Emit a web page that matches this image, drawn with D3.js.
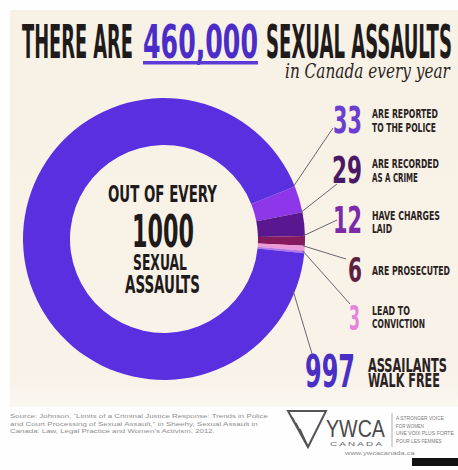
<!DOCTYPE html>
<html><head><meta charset="utf-8">
<script src="https://cdn.jsdelivr.net/npm/d3@7"></script>
<style>html,body{margin:0;padding:0;background:#fff;}svg{display:block;}</style>
</head><body>
<script>
// ---- data ----
const categories = ["Reported to the police","Recorded as a crime","Have charges laid","Are prosecuted","Lead to conviction","Assailants walk free"];
const counts = [33, 29, 12, 6, 3, 997];
const numberLabels = ["33","29","12","6","3","997"];
const labelLines = [["ARE REPORTED","TO THE POLICE"],["ARE RECORDED","AS A CRIME"],["HAVE CHARGES","LAID"],["ARE PROSECUTED"],["LEAD TO","CONVICTION"],["ASSAILANTS","WALK FREE"]];
const titleParts = ["THERE ARE","460,000","SEXUAL ASSAULTS"];
const subtitle = "in Canada every year";
const centerLines = ["OUT OF EVERY","1000","SEXUAL","ASSAULTS"];
const sourceLines = [
  "Source: Johnson, \u201CLimits of a Criminal Justice Response: Trends in Police",
  "and Court Processing of Sexual Assault,\u201D in Sheehy, Sexual Assault in",
  "Canada: Law, Legal Practice and Women\u2019s Activism, 2012."
];
const taglines = ["A STRONGER VOICE","FOR WOMEN","UNE VOIX PLUS FORTE","POUR LES FEMMES"];

// ---- styles / layout ----
const W = 458, H = 470;
const cx = 164, cy = 239, R = 141, r = 94;
const sliceColors = ["#8d36ea","#5a1890","#85195e","#ec9ad8","#b57ae8","#5a2fe0"];
const numberColors = ["#6a3fd0","#4a1a66","#7b2aa8","#5e2042","#e584dc","#4a2fc4"];
const FONT = "'Liberation Sans Narrow','DejaVu Sans Condensed','Liberation Sans',sans-serif";
const layout = [
  {numX:362, numY:133, numW:29, numS:37, lx:372, ly:[118,132], lw:[66,64], ls:12.5, ex:333, ey:128},
  {numX:362, numY:183, numW:30, numS:38, lx:372, ly:[168,182], lw:[67,46], ls:12.5, ex:337, ey:184},
  {numX:362, numY:233, numW:29, numS:38, lx:372, ly:[220,233], lw:[68,20], ls:12.5, ex:337, ey:220},
  {numX:362, numY:282, numW:14, numS:34, lx:372, ly:[275], lw:[78], ls:12.5, ex:346, ey:259},
  {numX:360, numY:330, numW:11, numS:34, lx:372, ly:[315,328], lw:[38,53], ls:12.5, ex:350, ey:304},
  {numX:355, numY:387, numW:50, numS:44, lx:368, ly:[372,387], lw:[79,72], ls:19, ex:313, ey:357}
];

const svg = d3.select("body").append("svg").attr("width", W).attr("height", H);
svg.append("rect").attr("width", W).attr("height", H).attr("fill", "#fefefe");
const grad = svg.append("defs").append("linearGradient").attr("id","bg").attr("x1",0).attr("x2",0).attr("y1",0).attr("y2",1);
grad.append("stop").attr("offset","0%").attr("stop-color","#f8f1e5");
grad.append("stop").attr("offset","93%").attr("stop-color","#f8f2e8");
grad.append("stop").attr("offset","100%").attr("stop-color","#fbf8f2");
svg.append("rect").attr("x",10).attr("y",10).attr("width",W-10).attr("height",397).attr("fill","url(#bg)");

// text drawn at natural size, then scaled horizontally to the target width
function txt(s, x, y, size, w, color, opts = {}) {
  const gg = svg.append("g").attr("transform", `translate(${x},${y})`);
  const t = gg.append("text").attr("x", 0).attr("y", 0)
    .attr("font-family", opts.family || FONT).attr("font-size", size)
    .attr("font-weight", opts.weight || "bold").attr("fill", color)
    .attr("text-anchor", opts.anchor || "start").text(s);
  if (opts.style) t.attr("font-style", opts.style);
  if (w) {
    const nat = t.node().getComputedTextLength();
    if (nat > 0) t.attr("transform", `scale(${w / nat},1)`);
  }
  return t;
}

// ---- title ----
txt(titleParts[0], 22, 58, 46, 111, "#1f1b1b");
txt(titleParts[1], 143, 58, 46, 115, "#4a2cc8");
svg.append("rect").attr("x",143).attr("y",61).attr("width",115).attr("height",3.5).attr("fill","#5a3ad8");
txt(titleParts[2], 266, 58, 46, 186, "#1f1b1b");
txt(subtitle, 285, 78, 20, 165, "#2a2424", {family:"'DejaVu Serif',serif", weight:"normal", style:"italic"});

// ---- donut ----
const a0 = (90 - 21.9) * Math.PI / 180;
const pie = d3.pie().sort(null).value(d => d).startAngle(a0).endAngle(a0 + 2 * Math.PI);
const arcs = pie(counts);
const arc = d3.arc().innerRadius(r).outerRadius(R);
const g = svg.append("g").attr("transform", `translate(${cx},${cy})`);
g.selectAll("path").data(arcs).join("path")
  .attr("d", arc).attr("fill", (d, i) => sliceColors[i]);

// leader lines
arcs.forEach((d, i) => {
  const ang = i === 5 ? d.startAngle + 0.28 : d.startAngle;
  const [px, py] = d3.pointRadial(ang, R - 2);
  svg.append("line").attr("x1", cx + px).attr("y1", cy + py)
    .attr("x2", layout[i].ex).attr("y2", layout[i].ey)
    .attr("stroke", "#6d6470").attr("stroke-width", 1);
});

// center text
txt(centerLines[0], 108, 202, 23, 109, "#1f1b1b");
txt(centerLines[1], 132, 247, 45, 62, "#1f1b1b");
txt(centerLines[2], 133, 270, 22, 54, "#1f1b1b");
txt(centerLines[3], 125, 293, 24, 75, "#1f1b1b");

// numbers + labels
counts.forEach((v, i) => {
  const L = layout[i];
  txt(numberLabels[i], L.numX, L.numY, L.numS, L.numW, numberColors[i], {anchor:"end"});
  labelLines[i].forEach((s, j) => txt(s, L.lx, L.ly[j], L.ls, L.lw[j], "#2a2222"));
});

// ---- footer ----
const SANS = "'Liberation Sans',sans-serif";
sourceLines.forEach((s, i) => txt(s, 10, 418 + i * 7.5, 6, [258, 248, 205][i], "#8e8e8e",
  {family:SANS, weight:"normal"}));
const logo = svg.append("g").attr("fill","none").attr("stroke","#555").attr("stroke-width",2);
logo.append("path").attr("d","M288,411 L326,411 L308,447 Z");
logo.append("path").attr("d","M292,417 L308,447").attr("stroke-width",1.5);
logo.append("path").attr("d","M296,423 L308,447").attr("stroke-width",1.5);
logo.append("path").attr("d","M300,429 L308,447").attr("stroke-width",1.5);
txt("YWCA", 326, 437, 23, 59, "#4a4a4a", {family:SANS, weight:"normal"});
txt("C A N A D A", 330, 446, 5.5, 52, "#666", {family:SANS, weight:"normal"});
svg.append("line").attr("x1",392).attr("x2",392).attr("y1",413).attr("y2",447).attr("stroke","#999").attr("stroke-width",0.8);
taglines.forEach((s,i)=> txt(s, 396, 420 + i*7.5, 4.5, [48,28,58,46][i], "#7a7a7a", {family:SANS, weight:"normal"}));
txt("www.ywcacanada.ca", 345, 455, 4.5, 70, "#8a8a8a", {family:SANS, weight:"normal"});
svg.append("rect").attr("x",412).attr("y",458).attr("width",46).attr("height",8).attr("fill","#111");
</script>
</body></html>
